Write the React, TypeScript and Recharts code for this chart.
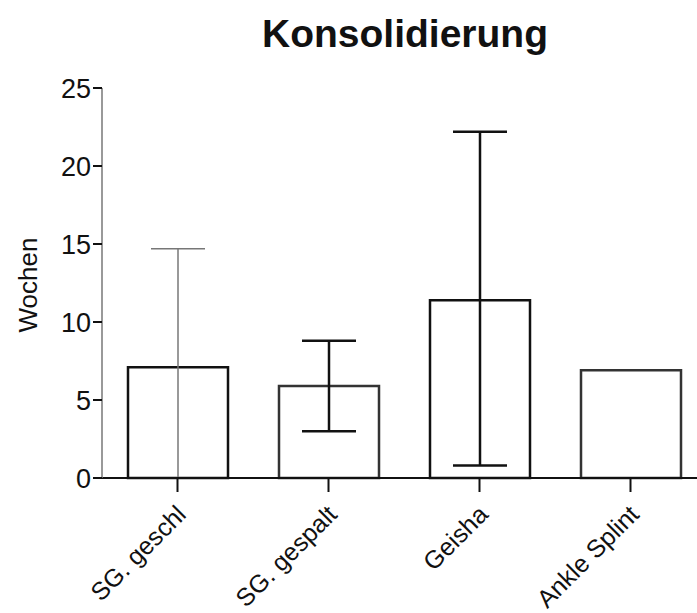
import { BarChart, Bar, XAxis, YAxis, ErrorBar, Cell } from 'recharts';

const categories = ['SG. geschl', 'SG. gespalt', 'Geisha', 'Ankle Splint'];
const means = [7.1, 5.9, 11.4, 6.9];
const errLow = [7.1, 2.9, 10.6, null];
const errHigh = [7.6, 2.9, 10.8, null];
const yTicks = [0, 5, 10, 15, 20, 25];

// bar 1 has its whisker drawn thin and grey in the original
const lightErr = [true, false, false, false];
const barStrokes = ['#111', '#333', '#111', '#333'];

const data = categories.map((name, i) => {
  const err = errLow[i] == null ? null : [errLow[i], errHigh[i]];
  return {
    name,
    mean: means[i],
    errDark: lightErr[i] ? null : err,
    errLight: lightErr[i] ? err : null,
  };
});

const font = 'Arial, "Liberation Sans", sans-serif';

function CategoryTick(props: any) {
  const { x, y, payload } = props;
  const tx = x + 10;
  const ty = y + 22;
  return (
    <text
      x={tx}
      y={ty}
      transform={`rotate(-45 ${tx} ${ty})`}
      textAnchor="end"
      fontSize={25}
      fontFamily={font}
      fill="#111"
    >
      {payload.value}
    </text>
  );
}

export default function App() {
  return (
    <div
      style={{
        position: 'absolute',
        left: 0,
        top: 0,
        width: 697,
        height: 613,
        overflow: 'hidden',
        background: '#fff',
      }}
    >
      <div
        style={{
          position: 'absolute',
          left: 0,
          width: 810,
          top: 12,
          textAlign: 'center',
          fontFamily: font,
          fontWeight: 'bold',
          fontSize: 39,
          color: '#111',
        }}
      >
        Konsolidierung
      </div>
      <BarChart
        width={720}
        height={613}
        data={data}
        margin={{ top: 88, right: 14, bottom: 0, left: 1 }}
        barCategoryGap={0}
      >
        <XAxis
          dataKey="name"
          height={135}
          tickSize={14}
          tickLine={{ stroke: '#111', strokeWidth: 2 }}
          axisLine={{ stroke: '#111', strokeWidth: 2 }}
          tick={<CategoryTick />}
          interval={0}
        />
        <YAxis
          width={101}
          domain={[0, 25]}
          ticks={yTicks}
          tickSize={9}
          tickLine={{ stroke: '#111', strokeWidth: 2 }}
          axisLine={{ stroke: '#777', strokeWidth: 1.5 }}
          tick={{ fontSize: 27, fill: '#111', fontFamily: font }}
          label={{
            value: 'Wochen',
            angle: -90,
            position: 'insideLeft',
            offset: 27,
            dy: 2,
            style: { fontSize: 26, fill: '#111', fontFamily: font, textAnchor: 'middle' },
          }}
        />
        <Bar
          dataKey="mean"
          barSize={100}
          fill="#fff"
          strokeWidth={2.5}
          isAnimationActive={false}
        >
          {data.map((d, i) => (
            <Cell key={d.name} stroke={barStrokes[i]} />
          ))}
          <ErrorBar dataKey="errLight" width={27} stroke="#777" strokeWidth={1.5} />
          <ErrorBar dataKey="errDark" width={27} stroke="#111" strokeWidth={2.5} />
        </Bar>
      </BarChart>
    </div>
  );
}
